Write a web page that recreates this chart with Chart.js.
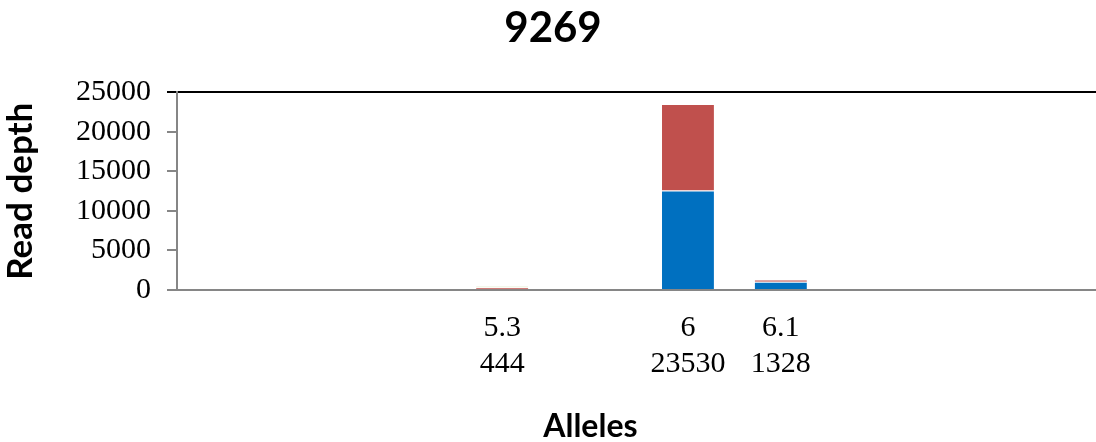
<!DOCTYPE html>
<html>
<head>
<meta charset="utf-8">
<script src="https://cdn.jsdelivr.net/npm/chart.js@4/dist/chart.umd.min.js"></script>
<style>
    html, body { margin: 0; padding: 0; background: #fff; overflow: hidden; }
    #wrap { width: 1110px; height: 442px; position: relative; }
</style>
</head>
<body>
<div id="wrap"><canvas id="alleleChart"></canvas></div>
<script>
// ============ 数据 ============
const alleles = ['', '', '', '5.3', '', '6', '6.1', '', '', ''];
const totals = ['', '', '', '444', '', '23530', '1328', '', '', ''];
const seriesBlue = [0, 0, 0, 100, 0, 12600, 1040, 0, 0, 0];
const seriesRed = [0, 0, 0, 250, 0, 10930, 288, 0, 0, 0];
const seriesGreen = [0, 0, 0, 94, 0, 0, 0, 0, 0, 0];
const yTicks = [0, 5000, 10000, 15000, 20000, 25000];

const axisGrey = '#868686';
const tickFont = { family: '"Liberation Serif", "Times New Roman", serif', size: 30, lineHeight: 1.2 };
const titleFamily = 'Lato, "Open Sans", sans-serif';

// x 轴标题（位置按 Excel 原图偏左）
const xTitlePlugin = {
    id: 'xTitle',
    afterDraw(chart) {
        const { ctx, chartArea } = chart;
        ctx.save();
        ctx.font = `bold 32px ${titleFamily}`;
        ctx.fillStyle = '#000';
        ctx.textAlign = 'center';
        ctx.textBaseline = 'middle';
        ctx.fillText('Alleles', chartArea.left + chartArea.width * 0.445, chart.height - 15);
        ctx.restore();
    }
};

const labels = alleles.map((a, i) => (a ? [a, totals[i]] : ''));
const barBorder = 'rgba(255,255,255,0.25)';

new Chart(document.getElementById('alleleChart'), {
    type: 'bar',
    data: {
        labels,
        datasets: [
            { label: 'Series 1', data: seriesBlue, backgroundColor: '#0070C0', borderColor: barBorder, borderWidth: 1 },
            { label: 'Series 2', data: seriesRed, backgroundColor: '#C0504D', borderColor: barBorder, borderWidth: 1 },
            { label: 'Series 3', data: seriesGreen, backgroundColor: '#9BBB59', borderColor: barBorder, borderWidth: 1 }
        ]
    },
    options: {
        responsive: true,
        maintainAspectRatio: false,
        animation: false,
        layout: { padding: { left: 0, right: 4, top: 0, bottom: 40 } },
        plugins: {
            legend: { display: false },
            tooltip: { enabled: false },
            title: {
                display: true,
                text: '9269',
                color: '#000',
                font: { family: titleFamily, size: 42, weight: 'bold' },
                padding: { top: 3, bottom: 39 }
            }
        },
        datasets: { bar: { categoryPercentage: 1, barPercentage: 0.58 } },
        scales: {
            x: {
                stacked: true,
                grid: { display: false, drawTicks: false },
                border: { display: true, color: axisGrey, width: 2 },
                ticks: { color: '#000', font: tickFont, padding: 20, maxRotation: 0, autoSkip: false }
            },
            y: {
                stacked: true,
                min: yTicks[0],
                max: yTicks[yTicks.length - 1],
                afterBuildTicks: axis => { axis.ticks = yTicks.map(v => ({ value: v })); },
                grid: {
                    color: c => (c.tick && c.tick.value === 25000 ? '#000' : 'transparent'),
                    tickColor: c => (c.tick && c.tick.value === 25000 ? '#000' : axisGrey),
                    lineWidth: 2,
                    tickLength: 10
                },
                border: { display: true, color: axisGrey, width: 2 },
                ticks: { color: '#000', font: tickFont, padding: 16, callback: v => String(v) },
                title: {
                    display: true,
                    text: 'Read depth',
                    color: '#000',
                    font: { family: titleFamily, size: 35, weight: 'bold' },
                    padding: { top: 0, bottom: 18 }
                }
            }
        }
    },
    plugins: [xTitlePlugin]
});
</script>
</body>
</html>
